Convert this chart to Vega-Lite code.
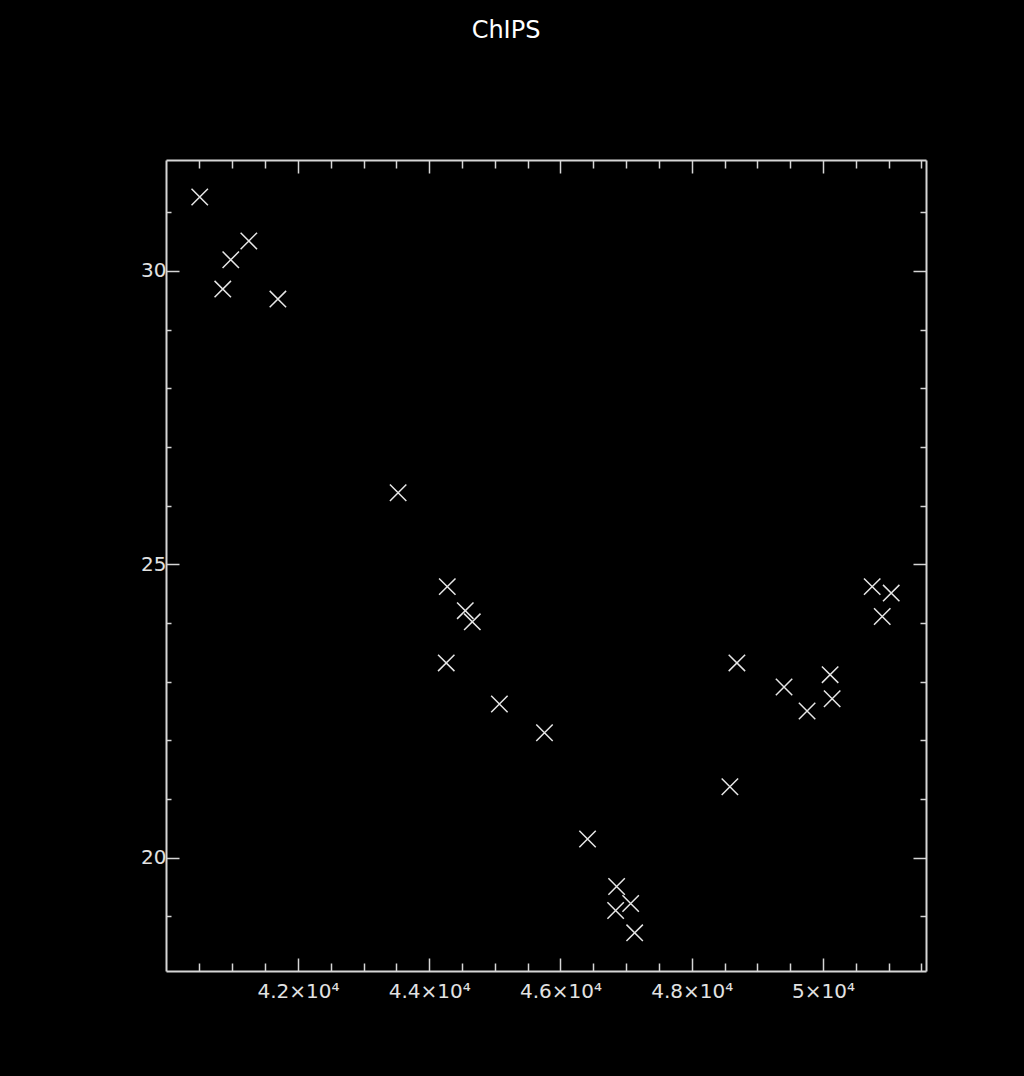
{
  "$schema": "https://vega.github.io/schema/vega-lite/v6.json",
  "width": 760,
  "height": 811,
  "autosize": {"type": "none"},
  "padding": {"left": 166, "top": 160, "right": 98, "bottom": 105},
  "background": "#000000",
  "title": {"text": "ChIPS", "color": "#ffffff", "fontSize": 24, "fontWeight": "normal", "font": "DejaVu Sans", "anchor": "middle", "dx": -40, "offset": 116},
  "config": {
    "view": {"stroke": null},
    "axis": {"grid": false, "domainColor": "#d6d6d6", "tickColor": "#d6d6d6", "labelColor": "#e2e2e2", "domainWidth": 2, "tickWidth": 1.5, "labelFont": "DejaVu Sans", "labelFontSize": 20, "title": null, "labelOverlap": false, "labelBound": false, "labelFlush": false}
  },
  "data": {"values": [
    {"x": 40504, "y": 31.26}, {"x": 40977, "y": 30.19}, {"x": 41252, "y": 30.51}, {"x": 40855, "y": 29.69},
    {"x": 41695, "y": 29.52}, {"x": 43527, "y": 26.22}, {"x": 44276, "y": 24.62}, {"x": 44550, "y": 24.21},
    {"x": 44657, "y": 24.02}, {"x": 44260, "y": 23.32}, {"x": 45070, "y": 22.62}, {"x": 45757, "y": 22.13},
    {"x": 46413, "y": 20.32}, {"x": 46856, "y": 19.51}, {"x": 46841, "y": 19.10}, {"x": 47070, "y": 19.22},
    {"x": 47131, "y": 18.72}, {"x": 48582, "y": 21.21}, {"x": 48689, "y": 23.32}, {"x": 49407, "y": 22.91},
    {"x": 49758, "y": 22.50}, {"x": 50109, "y": 23.12}, {"x": 50140, "y": 22.71}, {"x": 50750, "y": 24.62},
    {"x": 51040, "y": 24.51}, {"x": 50903, "y": 24.11}
  ]},
  "layer": [
    {
      "mark": {"type": "point", "shape": "M-1,-1L1,1M-1,1L1,-1", "filled": false, "size": 270, "strokeWidth": 1.5, "color": "#e6e6e6", "opacity": 1},
      "encoding": {
        "x": {"field": "x", "type": "quantitative", "scale": {"domain": [39990, 51570], "nice": false, "zero": false},
          "axis": {"orient": "bottom", "values": [40500, 41000, 41500, 42000, 42500, 43000, 43500, 44000, 44500, 45000, 45500, 46000, 46500, 47000, 47500, 48000, 48500, 49000, 49500, 50000, 50500, 51000, 51500],
            "tickSize": {"condition": {"test": "datum.value % 2000 === 0", "value": -13}, "value": -8},
            "labelExpr": "datum.value % 2000 === 0 ? (datum.value / 10000) + '×10⁴' : ''", "labelPadding": 23}},
        "y": {"field": "y", "type": "quantitative", "scale": {"domain": [18.07, 31.89], "nice": false, "zero": false},
          "axis": {"orient": "left", "values": [19, 20, 21, 22, 23, 24, 25, 26, 27, 28, 29, 30, 31],
            "tickSize": {"condition": {"test": "datum.value % 5 === 0", "value": -13}, "value": -5},
            "labelExpr": "datum.value % 5 === 0 ? datum.label : ''", "labelPadding": 13}}
      }
    },
    {
      "mark": {"type": "point", "opacity": 0},
      "encoding": {
        "x": {"field": "x", "type": "quantitative",
          "axis": {"orient": "top", "labels": false, "values": [40500, 41000, 41500, 42000, 42500, 43000, 43500, 44000, 44500, 45000, 45500, 46000, 46500, 47000, 47500, 48000, 48500, 49000, 49500, 50000, 50500, 51000, 51500],
            "tickSize": {"condition": {"test": "datum.value % 2000 === 0", "value": -13}, "value": -8}}},
        "y": {"field": "y", "type": "quantitative",
          "axis": {"orient": "right", "labels": false, "values": [19, 20, 21, 22, 23, 24, 25, 26, 27, 28, 29, 30, 31],
            "tickSize": {"condition": {"test": "datum.value % 5 === 0", "value": -13}, "value": -6}}}
      }
    }
  ],
  "resolve": {"axis": {"x": "independent", "y": "independent"}}
}
